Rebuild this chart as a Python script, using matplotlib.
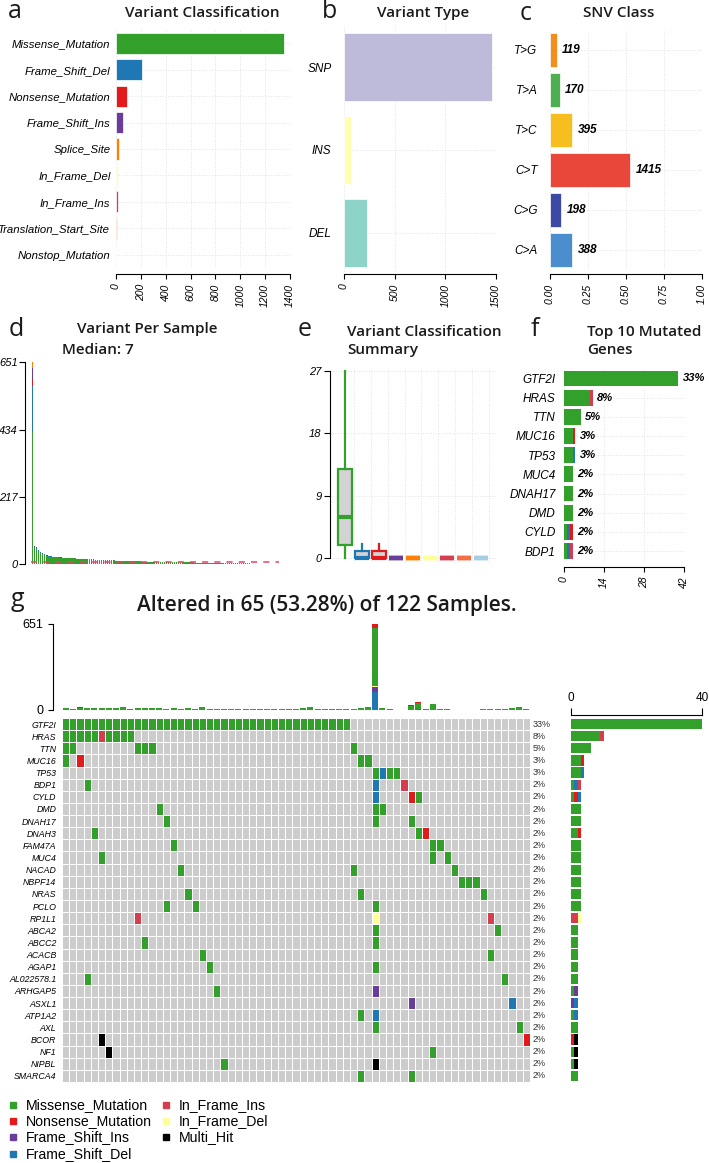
import numpy as np
import matplotlib
matplotlib.use('Agg')
import matplotlib.pyplot as plt
from matplotlib.patches import Rectangle
from matplotlib.colors import ListedColormap

plt.rcParams['font.family'] = ['Liberation Sans', 'DejaVu Sans']
TITLE_FONT = ['Open Sans', 'DejaVu Sans']

W, H = 709, 1163

# ---- colours per variant class ----
class_colors = {
    'Missense_Mutation': '#33A02C',
    'Frame_Shift_Del': '#1F78B4',
    'Nonsense_Mutation': '#E31A1C',
    'Frame_Shift_Ins': '#6A3D9A',
    'Splice_Site': '#FF7F00',
    'In_Frame_Del': '#FFFF99',
    'In_Frame_Ins': '#D53E4F',
    'Translation_Start_Site': '#F46D43',
    'Nonstop_Mutation': '#A6CEE3',
    'Multi_Hit': '#000000',
}

# ---- panel a: variant classification ----
vc_names = ['Missense_Mutation', 'Frame_Shift_Del', 'Nonsense_Mutation', 'Frame_Shift_Ins',
            'Splice_Site', 'In_Frame_Del', 'In_Frame_Ins', 'Translation_Start_Site',
            'Nonstop_Mutation']
vc_counts = [1349, 207, 86, 54, 27, 19, 14, 8, 3]

# ---- panel b: variant type ----
vt_names = ['SNP', 'INS', 'DEL']
vt_counts = [1458, 66, 230]
vt_colors = ['#BEBADA', '#FFFFB3', '#8DD3C7']

# ---- panel c: SNV class ----
snv_names = ['T>G', 'T>A', 'T>C', 'C>T', 'C>G', 'C>A']
snv_counts = [119, 170, 395, 1415, 198, 388]
snv_colors = ['#F28E1C', '#4CAF50', '#F6BE1E', '#E8473A', '#3C4AA6', '#4A8ECE']

# ---- panel d: variants per sample (sorted) ----
vps_total = [651, 58, 54, 46, 40, 35, 31, 28, 26, 25,
             24, 23, 22, 21, 21, 20, 20, 19, 19, 18,
             18, 18, 17, 17, 17, 16, 16, 16, 15, 15,
             15, 14, 14, 14, 13, 13, 13, 12, 12, 12,
             12, 11, 11, 11, 11, 10, 10, 10, 10, 9,
             9, 9, 9, 9, 8, 8, 8, 8, 8, 8,
             7, 7, 7, 7, 7, 7, 7, 6, 6, 6,
             6, 6, 6, 5, 5, 5, 5, 5, 5, 5,
             4, 4, 4, 4, 4, 4, 4, 4, 3, 3,
             3, 3, 3, 3, 3, 2, 2, 2, 2, 2,
             2, 2, 2, 2, 2, 2, 2, 2, 1, 1,
             1, 1, 1, 1, 1, 1, 1, 1, 1, 1, 1, 1]
vps_fsdel = [147, 3, 2, 2, 1, 1, 1, 0, 1, 1, 0, 1, 0, 1]
vps_nonsense = [23, 2, 1, 1, 1, 1, 0, 1, 1, 0, 1, 0, 1, 0, 1, 1]
vps_fsins = [35, 1, 1, 0, 1, 0, 0, 1]
vps_other = [19, 1, 0, 1]
vps_median = 7

# ---- panel e: boxplot stats per class (order of vc_names) ----
box_q1 = [1.9, 0, 0, 0, 0, 0, 0, 0, 0]
box_med = [5.9, 0, 0, 0, 0, 0, 0, 0, 0]
box_q3 = [12.9, 1, 1, 0, 0, 0, 0, 0, 0]
box_hi = [27, 2, 2, 0, 0, 0, 0, 0, 0]

# ---- panel g: oncoplot ----
n_samples = 122
n_altered = 65
onco_genes = ['GTF2I', 'HRAS', 'TTN', 'MUC16', 'TP53', 'BDP1', 'CYLD', 'DMD', 'DNAH17',
              'DNAH3', 'FAM47A', 'MUC4', 'NACAD', 'NBPF14', 'NRAS', 'PCLO', 'RP1L1',
              'ABCA2', 'ABCC2', 'ACACB', 'AGAP1', 'AL022578.1', 'ARHGAP5', 'ASXL1',
              'ATP1A2', 'AXL', 'BCOR', 'NF1', 'NIPBL', 'SMARCA4']
# class code : sample columns
onco_hits = [
    "M:0-39",
    "M:0-4,6-9 II:5",
    "M:0,1,10-12,40",
    "M:0,41,42 N:2",
    "M:43,45,46 FD:44",
    "M:3 FD:43 II:47",
    "FD:43 N:48 M:49",
    "M:13,43,44",
    "M:14,43,48",
    "M:4,49 N:50",
    "M:15,51,52",
    "M:5,51,53",
    "M:16,40,54",
    "M:55-57",
    "M:17,41,58",
    "M:14,18,43",
    "II:10,59 ID:43",
    "M:43,60",
    "M:11,43",
    "M:19,59",
    "M:20,43",
    "M:3,61",
    "M:21 FI:43",
    "FI:48 FD:62",
    "M:41 FD:43",
    "M:43,63",
    "MH:5 N:64",
    "MH:6 M:51",
    "M:22 MH:43",
    "M:41,48",
]
code_names = {'M': 'Missense_Mutation', 'N': 'Nonsense_Mutation', 'FI': 'Frame_Shift_Ins',
              'FD': 'Frame_Shift_Del', 'II': 'In_Frame_Ins', 'ID': 'In_Frame_Del',
              'MH': 'Multi_Hit'}
legend_order = ['M', 'N', 'FI', 'FD', 'II', 'ID', 'MH']

# mutation burden of each altered sample (top bar)
tmb_total = [18, 10, 20, 18, 18, 18, 18, 15, 25, 10,
             18, 13, 15, 15, 5, 15, 5, 13, 5, 23,
             10, 8, 8, 10, 5, 8, 5, 5, 5, 10,
             10, 5, 8, 13, 25, 10, 8, 8, 5, 8,
             10, 15, 25, 651, 18, 8, 3, 3, 35, 58,
             5, 46, 8, 5, 3, 3, 3, 3, 5, 5,
             5, 5, 18, 25, 8]
tmb_fsdel = {34: 3, 43: 139, 49: 5}
tmb_fsins = {43: 38}
tmb_ifdel = {43: 7}
tmb_splice = {3: 1, 6: 1, 10: 1, 33: 1, 44: 1}
tmb_nonsense = {2: 2, 5: 1, 8: 2, 19: 2, 34: 2, 42: 2, 43: 30, 48: 2, 49: 3,
                51: 4, 62: 2, 63: 3, 64: 2}

top10_genes = ['GTF2I', 'HRAS', 'TTN', 'MUC16', 'TP53', 'MUC4', 'DNAH17', 'DMD', 'CYLD', 'BDP1']


def parse_hits(s):
    out = []
    for part in s.split():
        code, cols = part.split(':')
        for piece in cols.split(','):
            if '-' in piece:
                a, b = piece.split('-')
                out += [(i, code) for i in range(int(a), int(b) + 1)]
            else:
                out.append((int(piece), code))
    return out


gene_hits = [parse_hits(s) for s in onco_hits]

fig = plt.figure(figsize=(W / 100, H / 100), dpi=100)


def add_ax(x0, y0, x1, y1):
    return fig.add_axes([x0 / W, 1 - y1 / H, (x1 - x0) / W, (y1 - y0) / H])


def ftext(x, y, s, **kw):
    return fig.text(x / W, 1 - y / H, s, **kw)


def style_grid(ax):
    ax.grid(True, color='#E3E3E3', linestyle=':', linewidth=0.7)
    ax.set_axisbelow(True)


def title(x, y, s, ha='center', size=11):
    ftext(x, y, s, fontsize=size, family=TITLE_FONT, fontweight='semibold', ha=ha, va='center',
          color='#1A1A1A')


# panel letters and titles
for letter, x, y in [('a', 15, 12), ('b', 329, 12), ('c', 526, 13), ('d', 16, 329),
                     ('e', 305, 330), ('f', 535, 329), ('g', 17, 599)]:
    ftext(x, y, letter, fontsize=18, family=TITLE_FONT, ha='center', va='center', color='#1A1A1A')

title(202, 13, 'Variant Classification')
title(423, 13, 'Variant Type')
title(619, 13, 'SNV Class')
title(147, 329, 'Variant Per Sample')
title(62, 350, 'Median: %d' % vps_median, ha='left')
title(347, 332, 'Variant Classification', ha='left')
title(347, 350, 'Summary', ha='left')
title(587, 332, 'Top 10 Mutated', ha='left')
title(587, 350, 'Genes', ha='left')
title(327, 605, 'Altered in %d (%.2f%%) of %d Samples.' % (n_altered, 100 * n_altered / n_samples, n_samples),
      size=15)


def rot_labels(ax, ticks, labels):
    ax.set_xticks(ticks)
    ax.set_xticklabels(labels, rotation=90, style='italic', fontsize=7.5)


# ---- a ----
ax = add_ax(116, 30, 290, 268)
ax.spines['bottom'].set_position(('outward', 4.3))
y = np.arange(len(vc_names))
ax.barh(y, vc_counts, height=0.8, color=[class_colors[n] for n in vc_names],
        edgecolor='white', linewidth=0.5)
ax.set_ylim(len(vc_names) - 0.5, -0.5)
ax.set_xlim(0, 1400)
rot_labels(ax, range(0, 1401, 200), [str(v) for v in range(0, 1401, 200)])
ax.set_yticks(y)
ax.set_yticklabels(vc_names, style='italic', fontsize=8.2)
ax.tick_params(axis='y', length=0, pad=4)
for s in ['top', 'right', 'left']:
    ax.spines[s].set_visible(False)
style_grid(ax)

# ---- b ----
ax = add_ax(344, 26, 496, 274)
y = np.arange(len(vt_names))
ax.barh(y, vt_counts, height=0.82, color=vt_colors, edgecolor='white', linewidth=0.5)
ax.set_ylim(len(vt_names) - 0.5, -0.5)
ax.set_xlim(0, 1500)
rot_labels(ax, [0, 500, 1000, 1500], ['0', '500', '1000', '1500'])
ax.set_yticks(y)
ax.set_yticklabels(vt_names, style='italic', fontsize=8.5)
ax.tick_params(axis='y', length=0, pad=9)
for s in ['top', 'right', 'left']:
    ax.spines[s].set_visible(False)
style_grid(ax)

# ---- c ----
ax = add_ax(550, 30, 702, 270)
ax.spines['bottom'].set_position(('outward', 2.9))
y = np.arange(len(snv_names))
frac = np.array(snv_counts) / np.sum(snv_counts)
ax.barh(y, frac, height=0.85, color=snv_colors, edgecolor='white', linewidth=0.5)
for yi, f, c in zip(y, frac, snv_counts):
    ax.annotate(str(c), (f, yi), xytext=(4, 0), textcoords='offset points', va='center',
                ha='left', fontsize=8.5, fontweight='bold', style='italic')
ax.set_ylim(len(snv_names) - 0.5, -0.5)
ax.set_xlim(0, 1)
rot_labels(ax, [0, 0.25, 0.5, 0.75, 1.0], ['0.00', '0.25', '0.50', '0.75', '1.00'])
ax.set_yticks(y)
ax.set_yticklabels(snv_names, style='italic', fontsize=8.5)
ax.tick_params(axis='y', length=0, pad=9)
for s in ['top', 'right', 'left']:
    ax.spines[s].set_visible(False)
style_grid(ax)

# ---- d ----
ax = add_ax(25, 359.5, 285, 564)
n = len(vps_total)


def pad(v):
    return np.array(v + [0] * (n - len(v)), dtype=float)


d_fsdel, d_non, d_fsins, d_oth = pad(vps_fsdel), pad(vps_nonsense), pad(vps_fsins), pad(vps_other)
d_mis = np.array(vps_total, dtype=float) - d_fsdel - d_non - d_fsins - d_oth
x = np.arange(n)
bottom = np.zeros(n)
for vals, col in [(d_mis, class_colors['Missense_Mutation']), (d_fsdel, class_colors['Frame_Shift_Del']),
                  (d_non, class_colors['Nonsense_Mutation']), (d_fsins, class_colors['Frame_Shift_Ins']),
                  (d_oth, class_colors['Splice_Site'])]:
    ax.bar(x, vals, bottom=bottom, width=0.8, color=col, linewidth=0)
    bottom += vals
ax.hlines(vps_median, -0.5, n - 0.5, colors='#E8436A', linestyles=(0, (4, 4)), linewidth=1.1)
ax.set_xlim(-3.7, 124.4)
ax.set_ylim(0, 660)
ax.set_yticks([0, 217, 434, 651])
ax.set_yticklabels(['0', '217', '434', '651'], style='italic', fontsize=8)
ax.spines['left'].set_bounds(0, 651)
ax.tick_params(axis='y', length=4, pad=1)
ax.set_xticks([])
for s in ['top', 'right', 'bottom']:
    ax.spines[s].set_visible(False)

# ---- e ----
ax = add_ax(330, 368.6, 496, 562.5)
stats = []
for i in range(len(vc_names)):
    stats.append(dict(whislo=0, q1=box_q1[i], med=box_med[i], q3=box_q3[i], whishi=box_hi[i]))
pos = np.arange(1, len(vc_names) + 1)
bp = ax.bxp(stats, positions=pos, widths=0.82, patch_artist=True, showfliers=False, showcaps=False)
for i, name in enumerate(vc_names):
    col = class_colors[name]
    flat = box_q3[i] == 0
    bp['boxes'][i].set(facecolor='#D3D3D3', edgecolor=col, linewidth=3.2 if flat else 1.6, clip_on=False)
    bp['medians'][i].set(color=col, linewidth=3 if not flat else 3.2, clip_on=False)
for i, w in enumerate(bp['whiskers']):
    w.set(color=class_colors[vc_names[i // 2]], linewidth=1.6)
ax.set_xlim(0.1, 9.9)
ax.set_ylim(-0.6, 27.3)
ax.set_yticks([0, 9, 18, 27])
ax.set_yticklabels(['0', '9', '18', '27'], style='italic', fontsize=8)
ax.spines['left'].set_bounds(0, 27)
ax.tick_params(axis='y', length=4, pad=2)
ax.set_xticks(pos + 0.5)
ax.set_xticklabels([])
ax.tick_params(axis='x', length=0)
for s in ['top', 'right', 'bottom']:
    ax.spines[s].set_visible(False)
style_grid(ax)

# ---- f ----
ax = add_ax(564, 368.9, 684, 560.6)
ax.spines['bottom'].set_position(('outward', 4.5))
f_order = ['M', 'FD', 'N', 'FI', 'II', 'ID', 'MH']
gi = {g: k for k, g in enumerate(onco_genes)}
left = np.zeros(len(top10_genes))
yy = np.arange(len(top10_genes))
for code in f_order:
    vals = np.array([sum(1 for c, cl in gene_hits[gi[g]] if cl == code) for g in top10_genes], dtype=float)
    ax.barh(yy, vals, left=left, height=0.83, color=class_colors[code_names[code]], linewidth=0)
    left += vals
for yi, tot in zip(yy, left):
    ax.annotate('%d%%' % round(100 * tot / n_samples), (tot, yi), xytext=(3, 0), textcoords='offset points',
                va='center', ha='left', fontsize=8, fontweight='bold', style='italic')
ax.set_ylim(len(top10_genes) - 0.5, -0.5)
ax.set_xlim(0, 42)
rot_labels(ax, [0, 14, 28, 42], ['0', '14', '28', '42'])
ax.set_yticks(yy)
ax.set_yticklabels(top10_genes, style='italic', fontsize=8.5)
ax.tick_params(axis='y', length=0, pad=6)
for s in ['top', 'right', 'left']:
    ax.spines[s].set_visible(False)
style_grid(ax)

# ---- g: top bar ----
ns = len(tmb_total)
ax = add_ax(62, 624, 530, 710)
ax.spines['left'].set_position(('outward', 6.5))
bottom = np.zeros(ns)


def dense(d):
    v = np.zeros(ns)
    for k, val in d.items():
        v[k] = val
    return v


t_fsdel, t_fsins, t_ifdel = dense(tmb_fsdel), dense(tmb_fsins), dense(tmb_ifdel)
t_spl, t_non = dense(tmb_splice), dense(tmb_nonsense)
t_mis = np.array(tmb_total, dtype=float) - t_fsdel - t_fsins - t_ifdel - t_spl - t_non
xs = np.arange(ns)
for vals, col in [(t_fsdel, class_colors['Frame_Shift_Del']), (t_fsins, class_colors['Frame_Shift_Ins']),
                  (t_ifdel, class_colors['In_Frame_Del']), (t_mis, class_colors['Missense_Mutation']),
                  (t_spl, class_colors['Splice_Site']), (t_non, class_colors['Nonsense_Mutation'])]:
    ax.bar(xs, vals, bottom=bottom, width=0.85, color=col, linewidth=0)
    bottom += vals
ax.set_xlim(-0.5, ns - 0.5)
ax.set_ylim(0, 651)
ax.set_yticks([0, 651])
ax.set_yticklabels(['0', '651'], fontsize=9)
ax.set_xticks([])
for s in ['top', 'right', 'bottom']:
    ax.spines[s].set_visible(False)

# ---- g: matrix ----
ng = len(onco_genes)
mat = np.zeros((ng, ns))
for r, hits in enumerate(gene_hits):
    for c, code in hits:
        mat[r, c] = legend_order.index(code) + 1
cmap = ListedColormap(['#CCCCCC'] + [class_colors[code_names[c]] for c in legend_order])
ax = add_ax(62, 718, 530, 1082)
ax.pcolormesh(np.arange(ns + 1) - 0.5, np.arange(ng + 1) - 0.5, mat, cmap=cmap, vmin=-0.5,
              vmax=len(legend_order) + 0.5, edgecolors='white', linewidth=0.6)
ax.set_xlim(-0.5, ns - 0.5)
ax.set_ylim(ng - 0.5, -0.5)
ax.set_yticks(np.arange(ng))
ax.set_yticklabels(onco_genes, style='italic', fontsize=6.3)
ax.tick_params(axis='y', length=0, pad=4)
ax.set_xticks([])
for s in ax.spines.values():
    s.set_visible(False)
for r, hits in enumerate(gene_hits):
    pct = round(100 * len(hits) / n_samples)
    ax.annotate('%d%%' % pct, (ns - 0.5, r), xytext=(2, 0), textcoords='offset points',
                va='center', ha='left', fontsize=6.5, color='#333333')

# ---- g: right bar ----
ax = add_ax(571, 718, 702, 1082)
ax.xaxis.tick_top()
ax.spines['top'].set_position(('outward', 2.2))
left = np.zeros(ng)
for code in legend_order:
    vals = np.array([sum(1 for c, cl in hits if cl == code) for hits in gene_hits], dtype=float)
    ax.barh(np.arange(ng), vals, left=left, height=0.85, color=class_colors[code_names[code]], linewidth=0)
    left += vals
ax.set_ylim(ng - 0.5, -0.5)
ax.set_xlim(0, 40)
ax.set_xticks([0, 40])
ax.set_xticklabels(['0', '40'], fontsize=8.5)
ax.tick_params(axis='x', length=5, pad=3, top=True, bottom=False)
ax.set_yticks([])
for s in ['bottom', 'right', 'left']:
    ax.spines[s].set_visible(False)

# ---- legend ----
leg_pos = [(13, 1105), (13, 1121), (13, 1137), (13, 1154), (166, 1105), (166, 1121), (166, 1137)]
for code, (lx, ly) in zip(legend_order, leg_pos):
    fig.patches.append(Rectangle(((lx - 3) / W, 1 - (ly + 3) / H), 6 / W, 6 / H,
                                 transform=fig.transFigure, color=class_colors[code_names[code]]))
    ftext(lx + 13, ly, code_names[code], fontsize=10.2, ha='left', va='center')

fig.savefig('out.png', dpi=100)
